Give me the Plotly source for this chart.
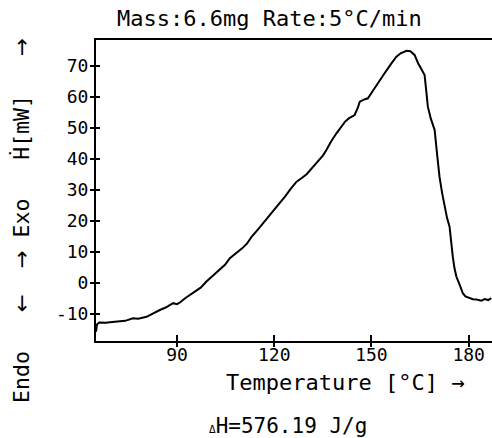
import plotly.graph_objects as go

# DSC trace
temperature = [65.0, 65.3, 66.0, 68.0, 70.0, 72.4, 74.0, 76.4, 78.0, 80.6,
               82.0, 84.7, 86.5, 88.8, 90.0, 91.0, 92.5, 94.0, 95.5, 97.4,
               99.0, 101.2, 103.0, 104.8, 106.3, 108.0, 110.0, 111.5, 113.0, 115.0,
               116.6, 118.0, 120.0, 121.7, 123.5, 125.0, 126.9, 128.5, 130.0, 131.5,
               133.5, 135.0, 136.1, 137.5, 139.2, 140.5, 141.8, 143.0, 144.8, 145.8,
               146.4, 148.0, 148.9, 150.5, 152.5, 154.0, 156.0, 157.7, 159.0, 160.8,
               162.0, 163.3, 164.4, 165.3, 166.4, 167.0, 167.4, 168.3, 169.5, 170.3,
               171.0, 171.8, 172.6, 173.3, 174.1, 174.6, 175.1, 175.6, 176.2, 177.2,
               178.2, 179.0, 180.0, 181.3, 182.5, 183.9, 185.0, 186.0, 187.0]
heat_flow = [-15.8, -13.5, -12.8, -12.9, -12.7, -12.6, -12.3, -11.5, -11.6, -11.0,
             -10.2, -8.8, -8.0, -6.6, -6.9, -6.3, -5.0, -4.0, -3.0, -1.5,
             0.3, 2.5, 4.0, 5.8, 7.9, 9.3, 11.0, 12.5, 14.8, 17.2,
             19.2, 21.0, 23.5, 25.6, 28.0, 30.2, 32.6, 33.8, 35.0, 36.8,
             39.0, 41.0, 42.8, 45.5, 48.2, 50.0, 51.9, 53.0, 54.1, 56.5,
             58.4, 59.2, 59.5, 62.0, 65.4, 67.5, 70.5, 72.9, 74.0, 74.8,
             74.7, 73.5, 70.8, 69.0, 67.0, 61.0, 56.8, 53.0, 49.3, 41.0,
             34.2, 29.0, 24.5, 21.0, 18.1, 12.0, 8.4, 4.8, 2.0, -0.6,
             -3.4, -4.4, -4.9, -5.3, -5.4, -5.8, -5.3, -5.6, -5.0]

x_ticks = [90, 120, 150, 180]
y_ticks = [-10, 0, 10, 20, 30, 40, 50, 60, 70]
y_tick_text = ["-10", "0", "10", "20", "30", "40", "50", "60", "70"]

x_range = [65, 187.2]
y_range = [-18.8, 78.3]

FONT = "DejaVu Sans Mono"
NB = "\u00a0"

fig = go.Figure()
fig.add_trace(go.Scatter(x=temperature, y=heat_flow, mode="lines",
                         line=dict(color="black", width=2), showlegend=False))
# empty trace so the overlay axes (inner tick halves) get drawn
fig.add_trace(go.Scatter(x=[], y=[], xaxis="x2", yaxis="y2", showlegend=False))

fig.update_layout(
    width=492, height=438,
    margin=dict(l=96, r=0, t=40, b=97),
    paper_bgcolor="white", plot_bgcolor="white",
    font=dict(family=FONT, color="black", size=18),
    xaxis=dict(range=x_range, tickvals=x_ticks, ticks="outside", ticklen=4,
               tickwidth=1.5, tickcolor="black", showline=True, linecolor="black",
               linewidth=2, mirror=True, showgrid=False, zeroline=False,
               tickfont=dict(size=18), automargin=False, ticklabelstandoff=-8),
    yaxis=dict(range=y_range, tickvals=y_ticks, ticktext=y_tick_text,
               ticks="outside", ticklen=4, tickwidth=1.5, tickcolor="black",
               showline=True, linecolor="black", linewidth=2, showgrid=False,
               zeroline=False, tickfont=dict(size=18), automargin=False,
               ticklabelstandoff=-2),
    xaxis2=dict(range=x_range, tickvals=x_ticks, overlaying="x", anchor="y",
                side="bottom", ticks="inside", ticklen=6, tickwidth=1.5,
                tickcolor="black", showticklabels=False, showgrid=False,
                zeroline=False, showline=False, automargin=False),
    yaxis2=dict(range=y_range, tickvals=y_ticks, overlaying="y", anchor="x",
                side="left", ticks="inside", ticklen=4, tickwidth=1.5,
                tickcolor="black", showticklabels=False, showgrid=False,
                zeroline=False, showline=False, automargin=False),
)

fig.add_annotation(text="Mass:6.6mg Rate:5°C/min", xref="paper", yref="paper",
                   x=0.439, y=1.073, xanchor="center", yanchor="middle",
                   showarrow=False, font=dict(size=22))
fig.add_annotation(text="Temperature [°C] →", xref="paper", yref="paper",
                   x=0.629, y=-0.1395, xanchor="center", yanchor="middle",
                   showarrow=False, font=dict(size=22))
fig.add_annotation(text="<span style='font-size:11px'>Δ</span>H=576.19 J/g",
                   xref="paper", yref="paper", x=0.485, y=-0.282,
                   xanchor="center", yanchor="middle", borderpad=0,
                   showarrow=False, font=dict(size=21))


def arrow(ch):
    return "<span style='font-family:DejaVu Sans'>" + ch + "</span>"


ylabel = ("Endo" + NB * 3 + arrow("←") + NB * 2 + arrow("→") + NB + "Exo"
          + NB * 3 + "Ḣ[mW]" + NB * 3 + arrow("→"))
fig.add_annotation(text=ylabel, xref="paper", yref="paper", x=-0.187, y=0.402,
                   xanchor="center", yanchor="middle", textangle=-90,
                   showarrow=False, font=dict(size=21.5))

fig.write_html("out.html", config={"displayModeBar": False},
               post_script="document.body.style.margin='0px';")
